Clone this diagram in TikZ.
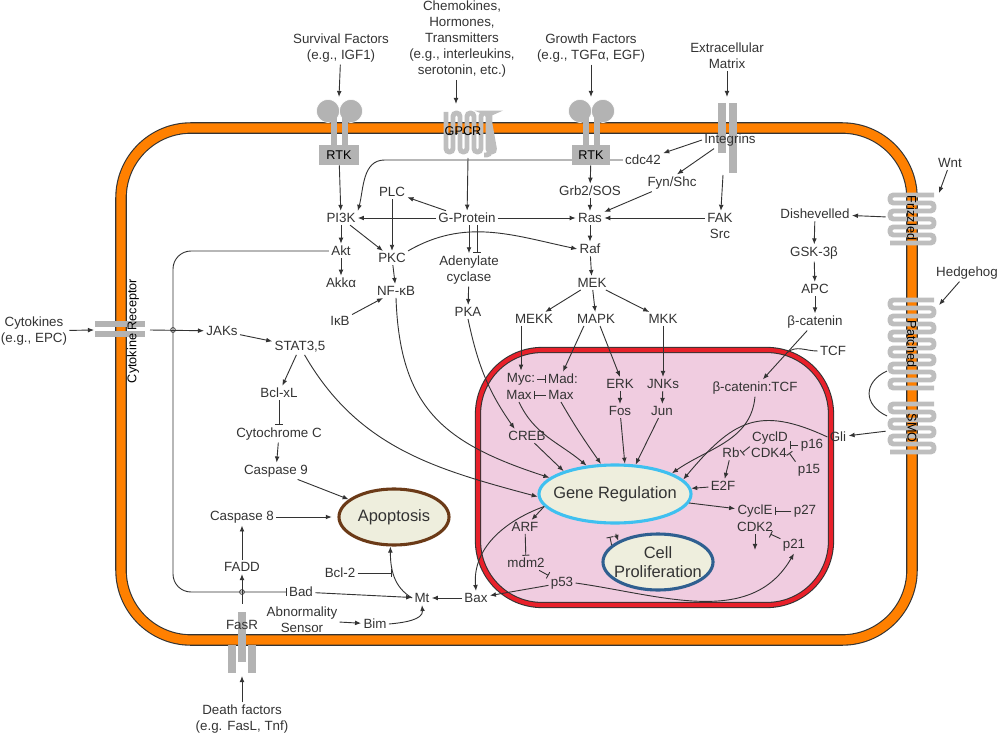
\documentclass[tikz,border=0pt]{standalone}
\usepackage{fontspec}
\setmainfont{Liberation Sans}
\usetikzlibrary{arrows.meta,shapes.geometric,calc}
\pgfdeclarelayer{background}
\pgfsetlayers{background,main}
\definecolor{txt}{HTML}{333333}
\definecolor{memb}{HTML}{FF8000}
\definecolor{rec}{HTML}{B3B3B3}
\definecolor{recl}{HTML}{BEBEBE}
\definecolor{nucl}{HTML}{F0CCE0}
\definecolor{nuclb}{HTML}{E8202A}
\definecolor{cream}{HTML}{EEEEDD}
\definecolor{genb}{HTML}{3FC0F0}
\definecolor{prolb}{HTML}{2F5F90}
\definecolor{apob}{HTML}{6B3A17}

\begin{document}
\begin{tikzpicture}[x=0.025cm,y=-0.025cm]
\tikzset{lbl/.style={text=txt, font=\fontsize{9.5}{11.5}\selectfont, inner sep=1.5pt, align=center},
 bigell/.style={ellipse, fill=cream, line width=2.2pt, minimum width=2.75cm, minimum height=1.4cm, text=txt, font=\fontsize{11.7}{14}\selectfont, align=center, inner xsep=-0.6cm, inner ysep=0pt},
 act/.style={draw=txt, line width=0.65pt, -{Latex[length=4.3pt,width=3.4pt]}},
 inh/.style={draw=txt, line width=0.65pt, -{Bar[width=5pt]}},
 ln/.style={draw=txt, line width=0.65pt},
 recbox/.style={fill=rec, text=black, font=\fontsize{9}{10}\selectfont, inner sep=0pt},
 reclbl/.style={text=black, font=\fontsize{9}{10}\selectfont, inner sep=0pt},
 serp/.style={draw=recl, line width=3.5pt, rounded corners=2.4pt},
 jct/.style={draw=txt, line width=0.5pt}}
\useasboundingbox (0,0) rectangle (1000,735);

\begin{pgfonlayer}{background}
\draw[line width=8.2pt, draw=txt, rounded corners=1.75cm] (121,128) rectangle (912,640);
\draw[line width=6.6pt, draw=memb, rounded corners=1.75cm] (121,128) rectangle (912,640);
\draw[line width=4.4pt, draw=txt, fill=nucl, rounded corners=1.6cm] (478,350) rectangle (831,605);
\draw[line width=2.9pt, draw=nuclb, rounded corners=1.6cm] (478,350) rectangle (831,605);
\end{pgfonlayer}

\filldraw[fill=rec, draw=white, line width=0.4pt] (328,111) circle[radius=0.29cm];
\filldraw[fill=rec, draw=white, line width=0.4pt] (351,111) circle[radius=0.29cm];
\fill[rec] (331,116) rectangle (337,146);
\fill[rec] (342,116) rectangle (348,146);
\node[recbox, minimum width=1cm, minimum height=0.5cm] (rtka) at (339,155) {RTK};
\filldraw[fill=rec, draw=white, line width=0.4pt] (580,111) circle[radius=0.29cm];
\filldraw[fill=rec, draw=white, line width=0.4pt] (603,111) circle[radius=0.29cm];
\fill[rec] (583,116) rectangle (589,146);
\fill[rec] (594,116) rectangle (600,146);
\node[recbox, minimum width=0.95cm, minimum height=0.5cm] (rtkb) at (591,155) {RTK};
\draw[serp] (446,112) -- (446,152) -- (453,152) \foreach \k in {0,1,2} {-- ({453+14*\k},113) -- ({460+14*\k},113) -- ({460+14*\k},152) -- ({467+14*\k},152)} -- (488,113) -- (490,113) -- (490,155) -- (484,155);
\node[reclbl] (gpcr) at (463,131) {GPCR};
\fill[rec] (718,103) rectangle (726,153);
\fill[rec] (729,103) rectangle (737,173);
\node[lbl] (integ) at (730,140) {Integrins};
\draw[serp] (934,195) \foreach \k in {0,1,2} {-- (890,{195+16*\k}) -- (890,{203+16*\k}) -- (934,{203+16*\k}) -- (934,{211+16*\k})} -- (890,243);
\node[reclbl, rotate=-90, minimum width=1.25cm, minimum height=1.3cm] (frz) at (912,218) {Frizzled};
\draw[serp] (934,300) \foreach \k in {0,...,4} {-- (890,{300+16*\k}) -- (890,{308+16*\k}) -- (934,{308+16*\k}) -- (934,{316+16*\k})} -- (890,380) -- (890,388) -- (934,388);
\node[reclbl, rotate=-90] (ptc) at (912,344) {Patched};
\draw[serp] (934,404) \foreach \k in {0,1,2} {-- (890,{404+16*\k}) -- (890,{412+16*\k}) -- (934,{412+16*\k}) -- (934,{420+16*\k})} -- (890,452);
\node[reclbl, rotate=-90, minimum width=1.25cm, minimum height=1.3cm] (smo) at (912,428) {SMO};
\fill[rec] (95,321) rectangle (145,327);
\fill[rec] (95,331) rectangle (145,337);
\node[reclbl, rotate=90] (cytlbl) at (133,331) {Cytokine Receptor};
\fill[rec] (238,612) rectangle (246,662);
\fill[rec] (228,645) rectangle (236,673);
\fill[rec] (248,645) rectangle (256,673);
\node[lbl] (fasr) at (242,625) {FasR};

\node[lbl] (surv) at (341,48) {Survival Factors\\(e.g., IGF1)};
\node[lbl] (chem) at (462,39) {Chemokines,\\Hormones,\\Transmitters\\(e.g., interleukins,\\serotonin, etc.)};
\node[lbl] (grow) at (591,48) {Growth Factors\\(e.g., TGFα, EGF)};
\node[lbl] (ecm) at (727,56) {Extracellular\\Matrix};
\node[lbl] (wnt) at (950,163) {Wnt};
\node[lbl] (hedge) at (967,273) {Hedgehog};
\node[lbl] (cytok) at (34,331) {Cytokines\\(e.g., EPC)};
\node[lbl] (death) at (242,719) {Death factors\\(e.g. FasL, Tnf)};

\coordinate (rtkat) at (339,97);
\coordinate (gpcrt) at (456,104);
\coordinate (rtkbt) at (591,97);
\coordinate (integt) at (727,97);
\coordinate (integb) at (723,175);
\coordinate (gpcrb) at (468,158);
\coordinate (frzt) at (939,193);
\coordinate (ptct) at (939,305);
\coordinate (cytrt) at (94,330);
\coordinate (cytrr) at (150,330);
\coordinate (fasrt) at (242,676);
\coordinate (jx) at (173,330);
\coordinate (jy) at (242,592);
\coordinate (cdkd) at (755,550);
\coordinate (arca) at (887,371);
\coordinate (arcb) at (887,416);

\node[bigell, draw=genb, minimum width=3.8cm, minimum height=1.45cm] (gene) at (615,494) {Gene Regulation};
\node[bigell, draw=apob] (apo) at (394,517) {Apoptosis};
\node[bigell, draw=prolb] (cp) at (658,562) {Cell\\Proliferation};

\node[lbl] (pi3k) at (341,218) {PI3K};
\node[lbl] (akt) at (341,251) {Akt};
\node[lbl] (akka) at (341,283) {Akkα};
\node[lbl] (plc) at (392,192) {PLC};
\node[lbl] (gprot) at (467,218) {G-Protein};
\node[lbl] (pkc) at (392,258) {PKC};
\node[lbl] (nfkb) at (396,291) {NF-κB};
\node[lbl] (ikb) at (340,321) {IκB};
\node[lbl] (adcy) at (469,270) {Adenylate\\cyclase};
\node[lbl] (pka) at (468,312) {PKA};
\node[lbl] (cdc42) at (643,160) {cdc42};
\node[lbl] (grb) at (590,191) {Grb2/SOS};
\node[lbl] (fyn) at (672,183) {Fyn/Shc};
\node[lbl] (ras) at (590,218) {Ras};
\node[lbl] (fak) at (720,226) {FAK\\Src};
\node[lbl] (raf) at (590,249) {Raf};
\node[lbl] (mek) at (592,283) {MEK};
\node[lbl] (mekk) at (534,319) {MEKK};
\node[lbl] (mapk) at (596,319) {MAPK};
\node[lbl] (mkk) at (663,319) {MKK};
\node[lbl] (dsh) at (815,214) {Dishevelled};
\node[lbl] (gsk) at (814,253) {GSK-3β};
\node[lbl] (apc) at (815,289) {APC};
\node[lbl] (bcat) at (815,322) {β-catenin};
\node[lbl] (tcf) at (833,351) {TCF};
\node[lbl] (bctcf) at (755,388) {β-catenin:TCF};
\node[lbl] (myc) at (521,379) {Myc:};
\node[lbl] (maxa) at (519,395) {Max};
\node[lbl] (mad) at (563,379) {Mad:};
\node[lbl] (maxb) at (561,395) {Max};
\node[lbl] (erk) at (620,384) {ERK};
\node[lbl] (fos) at (620,411) {Fos};
\node[lbl] (jnk) at (663,384) {JNKs};
\node[lbl] (jun) at (662,411) {Jun};
\node[lbl] (creb) at (527,436) {CREB};
\node[lbl] (gli) at (838,437) {Gli};
\node[lbl] (cycd) at (770,438) {CyclD};
\node[lbl] (cdk4) at (769,453) {CDK4};
\node[lbl] (p16) at (812,445) {p16};
\node[lbl] (p15) at (809,470) {p15};
\node[lbl] (rb) at (731,453) {Rb};
\node[lbl] (e2f) at (723,486) {E2F};
\node[lbl] (cyce) at (755,511) {CyclE};
\node[lbl] (cdk2) at (755,527) {CDK2};
\node[lbl] (p27) at (805,511) {p27};
\node[lbl] (p21) at (794,545) {p21};
\node[lbl] (arf) at (525,527) {ARF};
\node[lbl] (mdm2) at (526,563) {mdm2};
\node[lbl] (p53) at (562,583) {p53};
\node[lbl] (bax) at (476,598) {Bax};
\node[lbl] (mt) at (422,598) {Mt};
\node[lbl] (bcl2) at (340,573) {Bcl-2};
\node[lbl] (bad) at (301,592) {Bad};
\node[lbl] (fadd) at (242,567) {FADD};
\node[lbl] (casp8) at (242,517) {Caspase 8};
\node[lbl] (abn) at (302,620) {Abnormality\\Sensor};
\node[lbl] (bim) at (375,624) {Bim};
\node[lbl] (casp9) at (276,471) {Caspase 9};
\node[lbl] (cytc) at (279,434) {Cytochrome C};
\node[lbl] (bclxl) at (279,393) {Bcl-xL};
\node[lbl] (stat) at (300,347) {STAT3,5};
\node[lbl] (jaks) at (222,331) {JAKs};

\draw[act] (surv) -- (rtkat);
\draw[act] (chem.south -| gpcrt) -- (gpcrt);
\draw[act] (grow) -- (rtkbt);
\draw[act] (ecm) -- (integt);
\draw[act] (wnt) -- (frzt);
\draw[act] (hedge) -- (ptct);
\draw[act] (cytok) -- (cytrt);
\draw[act] (death) -- (fasrt);
\draw[act] (rtka) -- (pi3k);
\draw[act] (gpcrb) -- (gprot);
\draw[act] (rtkb) -- (grb);
\draw[act] (grb) -- (ras);
\draw[act] (ras) -- (raf);
\draw[act] (raf) -- (mek);
\draw[act] (integ.west) -- (cdc42);
\draw[act] ([xshift=-0.4cm]integ.south) -- (fyn.60);
\draw[act] (integb) -- (fak);
\draw[act] (fyn) -- (ras);
\draw[act] (fak.west |- ras) -- (ras);
\begin{pgfonlayer}{background}
\draw[act] (cdc42.west) -- ++(-5.95cm,0) to[out=180,in=75] (pi3k.north east);
\end{pgfonlayer}
\draw[act] (gprot) -- (pi3k);
\draw[act] (gprot) -- (plc);
\draw[act] (gprot) -- (ras);
\draw[act] (plc) -- (pkc);
\draw[act] (pi3k) -- (pkc);
\draw[act] (pi3k) -- (akt);
\draw[act] (akt) -- (akka);
\draw[act] (pkc.north east) to[out=30,in=168] (raf.west);
\draw[act] (gprot.south -| adcy) -- (adcy);
\draw[inh] ($(gprot.south -| adcy)+(8,0)$) -- ($(adcy.north)+(8,0)$);
\draw[act] (adcy) -- (pka);
\draw[act] (pkc) -- (nfkb);
\draw[act] (ikb) -- (nfkb);
\draw[act] (pka.south) to[out=-78,in=125] (creb.150);
\draw[act] (nfkb.south) to[out=-88,in=162,looseness=1.2] (gene.166);
\draw[act] (stat.-60) to[out=-60,in=165] (gene.182);
\draw[act] (creb) -- (gene.156);
\draw[act] (maxa.south) to[out=-65,in=140] (gene.135);
\draw[act] (maxb.south) to[out=-60,in=125] (gene.115);
\draw[act] (fos) -- (gene.72);
\draw[act] (jun) -- (gene.55);
\draw[act] (bctcf.south) to[out=-95,in=35] (gene.20);
\draw[act] (gli.west) to[out=155,in=50,looseness=1.3] (gene.12);
\draw[act] (e2f) -- (gene);
\draw[act] (gene) -- (cyce);
\draw[act] (gene.190) -- (arf);
\draw[act] (gene.190) to[out=200,in=95] (bax.north);
\draw[act, shorten <=7pt] (gene.-95) -- (cp.152);
\draw[inh, shorten >=9pt] (cp.160) -- (gene.-104);
\draw[act] (mek) -- (mekk);
\draw[act] (mek) -- (mapk);
\draw[act] (mek) -- (mkk);
\draw[act] (mekk.south -| myc) -- (myc);
\draw[act] (mapk.-150) -- (mad.north);
\draw[act] (mapk.-60) -- (erk.north);
\draw[act] (mkk) -- (jnk);
\draw[act] (erk) -- (fos);
\draw[act] (jnk) -- (jun);
\draw[inh] (myc) -- (mad);
\draw[inh] (maxb) -- (maxa);
\draw[act] (frz) -- (dsh);
\draw[act] (dsh) -- (gsk);
\draw[act] (gsk) -- (apc);
\draw[act] (apc) -- (bcat);
\draw[act] (bcat) -- coordinate[pos=0.45] (tj) (bctcf);
\draw[ln] (tcf.west) to[out=180,in=40] (tj);
\draw[act] (smo) -- (gli);
\draw[ln] (arca) to[out=205,in=155,looseness=1.5] (arcb);
\draw[act] (rb) -- (e2f);
\draw[inh] (cycd.south west) -- (rb.east);
\draw[inh] (p16.west) -- (p16.west -| cycd.east);
\draw[inh] (p15.north west) -- (cdk4.east);
\draw[inh] (p27) -- (cyce);
\draw[inh] (p21) -- (cdk2);
\draw[act] (cdk2) -- (cdkd);
\draw[act] (p53.east) to[out=-8,in=-120] (p21.south);
\draw[act] (p53) -- (bax);
\draw[inh] (mdm2) -- (p53);
\draw[inh] (arf) -- (mdm2);
\draw[act] (bax) -- (mt);
\draw[act] (mt.west) to[out=150,in=-90] coordinate[pos=0.45] (mtc) (apo.-97);
\draw[inh, shorten >=2pt] (bcl2) -- (bcl2 -| mtc);
\draw[act] (bad) -- (mt);
\draw[act] (bim.east) to[out=5,in=-85] (mt.south);
\draw[act] (abn) -- (bim);
\draw[act, shorten <=10pt] (fasr) -- (fadd);
\draw[act] (fadd) -- (casp8);
\draw[act, shorten >=4pt] (casp8) -- (apo);
\draw[act] (casp9) -- (apo);
\draw[act] (cytc) -- (casp9);
\draw[inh] (bclxl) -- (cytc);
\draw[act] (stat) -- (bclxl);
\draw[act] (jaks) -- (stat);
\draw[act] (cytrr) -- (jaks);
\draw[inh, rounded corners=0.45cm] (akt.west) -- (akt.west -| jx) |- (bad.west);
\draw[jct] (jx) circle[radius=0.06cm];
\draw[jct] (jy) circle[radius=0.06cm];
\end{tikzpicture}
\end{document}
